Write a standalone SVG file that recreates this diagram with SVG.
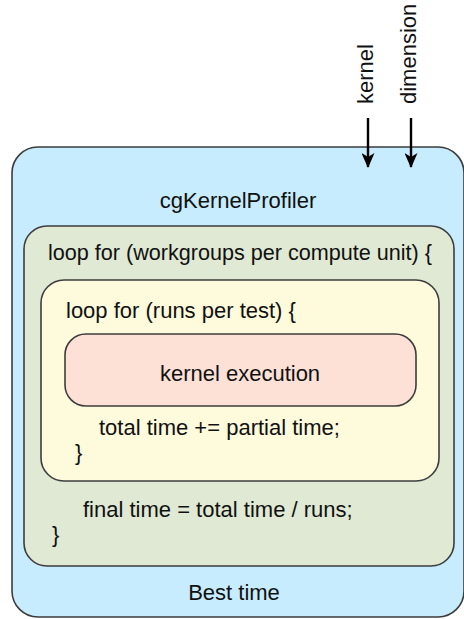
<svg xmlns="http://www.w3.org/2000/svg" width="464" height="619" viewBox="0 0 464 619">
  <defs>
    <marker id="arrowhead" markerWidth="15" markerHeight="13" refX="14" refY="6.5" orient="auto" markerUnits="userSpaceOnUse" viewBox="0 0 15 13">
      <path d="M0,0 L15,6.5 L0,13 L4,6.5 Z" fill="#000"/>
    </marker>
  </defs>
  <style>
    .box { stroke: #3d3d3d; stroke-width: 1.6; }
    .t { font-family: "Liberation Sans", Arial, Helvetica, sans-serif; font-size: 22px; fill: #111; }
    .mid { text-anchor: middle; }
    .conn { stroke: #000; stroke-width: 2.4; fill: none; }
  </style>
  <rect width="464" height="619" fill="#ffffff"/>

  <!-- profiler container -->
  <g id="cgKernelProfiler">
    <rect class="box" x="12" y="147" width="452" height="470" rx="26" ry="26" fill="#c7ecfd"/>
    <text class="t mid" x="238" y="208">cgKernelProfiler</text>
    <text class="t mid" x="234" y="600">Best time</text>
  </g>

  <!-- outer loop over workgroups -->
  <g id="workgroupLoop">
    <rect class="box" x="24" y="226" width="430" height="340" rx="23" ry="23" fill="#dfe9d3"/>
    <text class="t" x="48" y="260" textLength="384" lengthAdjust="spacingAndGlyphs">loop for (workgroups per compute unit) {</text>
    <text class="t" x="83" y="517">final time = total time / runs;</text>
    <text class="t" x="52" y="542">}</text>
  </g>

  <!-- inner loop over runs -->
  <g id="runLoop">
    <rect class="box" x="41" y="280" width="398" height="201" rx="23" ry="23" fill="#fefadc"/>
    <text class="t" x="66" y="318">loop for (runs per test) {</text>
    <text class="t" x="99" y="435">total time += partial time;</text>
    <text class="t" x="75" y="460">}</text>
  </g>

  <!-- kernel execution step -->
  <g id="kernelExecution">
    <rect class="box" x="65" y="334" width="351" height="72" rx="21" ry="21" fill="#fde1d6"/>
    <text class="t mid" x="240" y="381">kernel execution</text>
  </g>

  <!-- inputs -->
  <g id="inputKernel">
    <text class="t" transform="translate(373,104) rotate(-90)">kernel</text>
  </g>
  <g id="inputDimension">
    <text class="t" transform="translate(416,104) rotate(-90)">dimension</text>
  </g>

  <g id="connectors">
    <line class="conn" x1="368" y1="118" x2="368" y2="167" marker-end="url(#arrowhead)"/>
    <line class="conn" x1="411" y1="118" x2="411" y2="167" marker-end="url(#arrowhead)"/>
  </g>
</svg>
